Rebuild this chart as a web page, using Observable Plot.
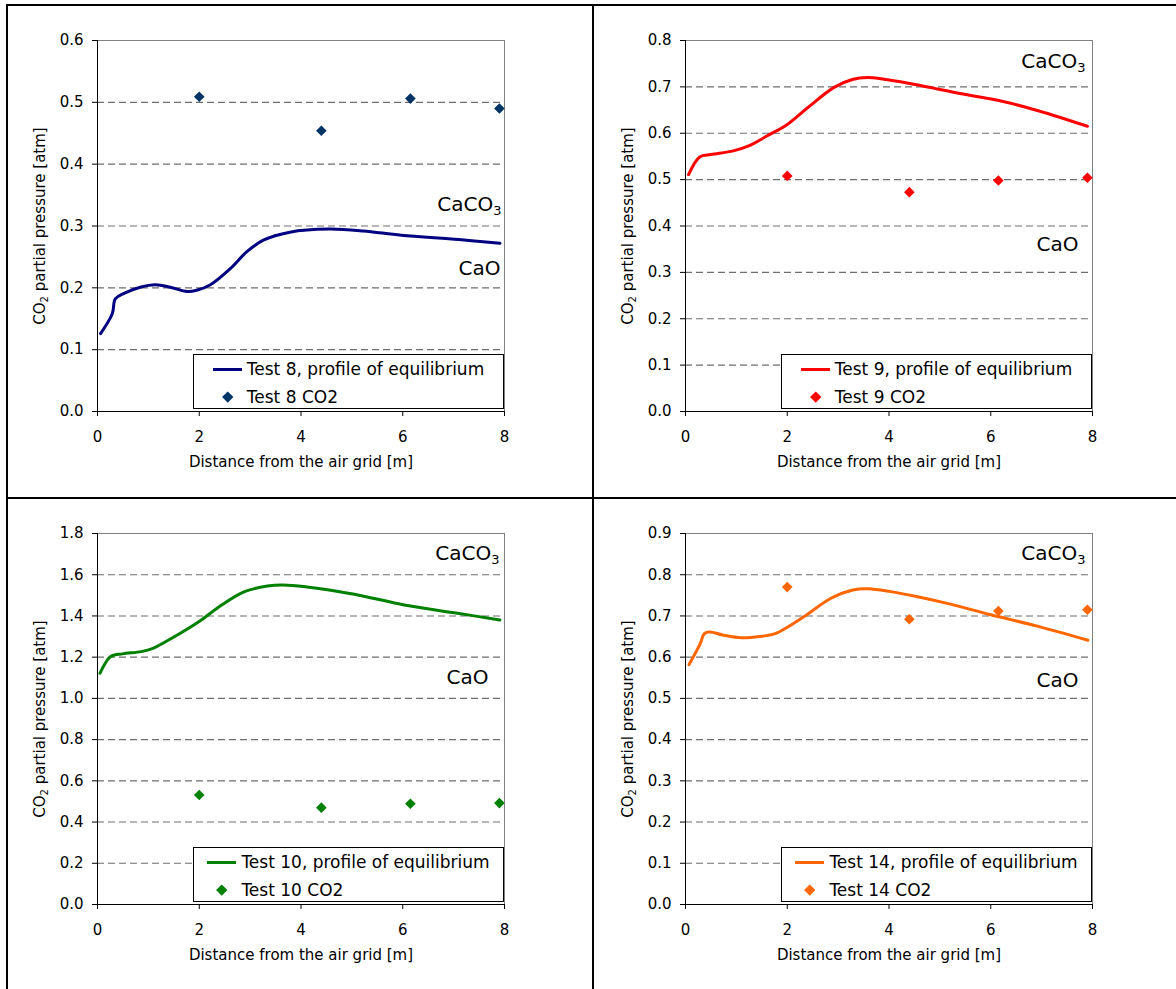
<!DOCTYPE html>
<html><head><meta charset="utf-8">
<script src="https://cdn.jsdelivr.net/npm/d3@7"></script>
<script src="https://cdn.jsdelivr.net/npm/@observablehq/plot@0.6"></script>
<style>
body{margin:0;background:#fff;}
#fig{position:relative;width:1176px;height:989px;overflow:hidden;background:#fff;font-family:"DejaVu Sans",sans-serif;}
.panel{position:absolute;width:588px;height:493px;}
.panel svg{position:absolute;left:0;top:0;}
.legend{position:absolute;left:193px;top:354px;width:311px;height:55px;box-sizing:border-box;border:1px solid #000;background:#fff;display:flex;justify-content:center;font-size:17px;color:#000;}
.legend .row{display:flex;align-items:center;height:28px;white-space:nowrap;}
.sw{width:29px;margin-right:5px;display:flex;justify-content:center;align-items:center;}
.ln{width:29px;height:3px;}
.dm{width:7.5px;height:7.5px;transform:rotate(45deg);}
.bd{position:absolute;background:#000;}
</style></head><body><div id="fig"></div>
<script>
// ---- data ----
const distanceTicks = [0, 2, 4, 6, 8];
const markerDistance = [2.0, 4.4, 6.15, 7.9];

const test8ProfileX = [0.06,0.29,0.35,0.52,0.84,1.14,1.43,1.76,1.95,2.22,2.61,2.93,3.26,3.78,4.55,5.22,5.97,7.1,7.91];
const test8ProfileY = [0.126,0.158,0.182,0.191,0.201,0.205,0.201,0.194,0.196,0.205,0.231,0.258,0.277,0.290,0.295,0.292,0.285,0.278,0.272];
const test8CO2 = [0.509,0.454,0.506,0.490];
const test8Ticks = [0,0.1,0.2,0.3,0.4,0.5,0.6];

const test9ProfileX = [0.06,0.28,0.50,0.94,1.23,1.60,2.00,2.40,2.92,3.28,3.58,3.87,4.38,5.48,6.22,6.95,7.90];
const test9ProfileY = [0.511,0.549,0.554,0.562,0.572,0.594,0.619,0.655,0.699,0.716,0.720,0.717,0.708,0.684,0.669,0.648,0.615];
const test9CO2 = [0.508,0.473,0.498,0.504];
const test9Ticks = [0,0.1,0.2,0.3,0.4,0.5,0.6,0.7,0.8];

const test10ProfileX = [0.05,0.26,0.49,0.86,1.09,1.46,1.99,2.44,2.89,3.34,3.64,4.09,4.46,5.21,6.03,7.08,7.91];
const test10ProfileY = [1.122,1.203,1.216,1.227,1.243,1.292,1.372,1.453,1.518,1.545,1.550,1.542,1.529,1.497,1.453,1.413,1.380];
const test10CO2 = [0.531,0.470,0.489,0.492];
const test10Ticks = [0,0.2,0.4,0.6,0.8,1.0,1.2,1.4,1.6,1.8];

const test14ProfileX = [0.07,0.29,0.37,0.48,0.73,1.10,1.46,1.76,2.01,2.34,2.86,3.29,3.59,4.03,4.54,5.12,6.00,6.95,7.91];
const test14ProfileY = [0.582,0.633,0.657,0.661,0.654,0.647,0.650,0.657,0.673,0.699,0.743,0.763,0.766,0.759,0.747,0.731,0.703,0.674,0.641];
const test14CO2 = [0.770,0.692,0.712,0.715];
const test14Ticks = [0,0.1,0.2,0.3,0.4,0.5,0.6,0.7,0.8,0.9];

const testNames = ["Test 8", "Test 9", "Test 10", "Test 14"];
const phaseLabels = ["CaCO3", "CaO"];
const phaseLabelY = [[0.335, 0.231], [0.755, 0.360], [1.703, 1.103], [0.852, 0.544]];
const xTitle = "Distance from the air grid [m]";
const yTitle = "CO2 partial pressure [atm]";

// ---- layout / style ----
const panelCfg = [
  {px: test8ProfileX, py: test8ProfileY, co2: test8CO2, ticks: test8Ticks, line: "#000080", mark: "#003366", left: 0, top: 0, dx: [-3, -4]},
  {px: test9ProfileX, py: test9ProfileY, co2: test9CO2, ticks: test9Ticks, line: "#FF0000", mark: "#FF0000", left: 588, top: 0, dx: [-7, -14]},
  {px: test10ProfileX, py: test10ProfileY, co2: test10CO2, ticks: test10Ticks, line: "#008000", mark: "#008000", left: 0, top: 493, dx: [-5, -16]},
  {px: test14ProfileX, py: test14ProfileY, co2: test14CO2, ticks: test14Ticks, line: "#FF6600", mark: "#FF6600", left: 588, top: 493, dx: [-7, -14]}
];

const diamond = {
  draw(ctx, size) {
    const h = Math.sqrt(size / Math.PI);
    ctx.moveTo(0, -h); ctx.lineTo(h, 0); ctx.lineTo(0, h); ctx.lineTo(-h, 0); ctx.closePath();
  }
};

function subscriptify(svg) {
  d3.select(svg).selectAll("text").each(function () {
    const t = this.textContent;
    if (t === "CaCO3") {
      this.textContent = "CaCO";
      d3.select(this).append("tspan").attr("font-size", "13px").attr("dy", "4").text("3");
    } else if (t === yTitle) {
      this.textContent = "CO";
      d3.select(this).append("tspan").attr("font-size", "10px").attr("dy", "3").text("2");
      d3.select(this).append("tspan").attr("dy", "-3").text(" partial pressure [atm]");
    }
  });
}

const fig = document.getElementById("fig");

panelCfg.forEach((p, i) => {
  const yMax = p.ticks[p.ticks.length - 1];
  const profile = p.px.map((x, k) => ({x, y: p.py[k]}));
  const points = markerDistance.map((x, k) => ({x, y: p.co2[k]}));
  const labels = phaseLabels.map((l, k) => ({label: l, y: phaseLabelY[i][k], dx: p.dx[k]}));
  const grid = p.ticks.filter(t => t > 0 && t < yMax);

  const svg = Plot.plot({
    width: 588, height: 493,
    marginLeft: 97, marginRight: 84, marginTop: 40, marginBottom: 82,
    style: {fontFamily: "'DejaVu Sans', sans-serif", fontSize: "15px", color: "#000", background: "transparent", overflow: "visible"},
    x: {domain: [0, 8], ticks: distanceTicks, tickSize: 5, tickPadding: 15, label: null},
    y: {domain: [0, yMax], ticks: p.ticks, tickFormat: d3.format(".1f"), tickSize: 5, tickPadding: 9, label: null},
    marks: [
      Plot.ruleY(grid, {stroke: "#6e6e6e", strokeWidth: 1.1, strokeDasharray: "7,4"}),
      Plot.ruleY([yMax], {stroke: "#808080", strokeWidth: 1}),
      Plot.ruleX([8], {stroke: "#808080", strokeWidth: 1}),
      Plot.ruleX([0], {stroke: "#000", strokeWidth: 1}),
      Plot.ruleY([0], {stroke: "#000", strokeWidth: 1}),
      Plot.line(profile, {x: "x", y: "y", stroke: p.line, strokeWidth: 3, curve: "catmull-rom", strokeLinejoin: "round", strokeLinecap: "round"}),
      Plot.dot(points, {x: "x", y: "y", symbol: diamond, r: 5.3, fill: p.mark, stroke: "none"}),
      Plot.text(labels.slice(0, 1), {y: "y", text: "label", frameAnchor: "right", textAnchor: "end", dx: labels[0].dx, fontSize: 20, fill: "#000"}),
      Plot.text(labels.slice(1), {y: "y", text: "label", frameAnchor: "right", textAnchor: "end", dx: labels[1].dx, fontSize: 20, fill: "#000"}),
      Plot.text([xTitle], {text: d => d, frameAnchor: "bottom", textAnchor: "middle", dy: 55, fontSize: 15, fill: "#000"}),
      Plot.text([yTitle], {text: d => d, frameAnchor: "left", textAnchor: "middle", rotate: -90, dx: -57, fontSize: 15, fill: "#000"})
    ]
  });
  subscriptify(svg);

  const panel = document.createElement("div");
  panel.className = "panel";
  panel.style.left = p.left + "px";
  panel.style.top = p.top + "px";
  panel.appendChild(svg);

  const lg = document.createElement("div");
  lg.className = "legend";
  lg.innerHTML =
    `<div class="inner">
      <div class="row"><span class="sw"><span class="ln" style="background:${p.line}"></span></span><span>${testNames[i]}, profile of equilibrium</span></div>
      <div class="row"><span class="sw"><span class="dm" style="background:${p.mark}"></span></span><span>${testNames[i]} CO2</span></div>
    </div>`;
  panel.appendChild(lg);
  fig.appendChild(panel);
});

// frame lines between panels
[
  {l: 6, t: 4, w: 1170, h: 2},
  {l: 6, t: 4, w: 2, h: 985},
  {l: 592, t: 4, w: 2, h: 985},
  {l: 6, t: 497, w: 1170, h: 2}
].forEach(b => {
  const d = document.createElement("div");
  d.className = "bd";
  Object.assign(d.style, {left: b.l + "px", top: b.t + "px", width: b.w + "px", height: b.h + "px"});
  fig.appendChild(d);
});
</script></body></html>
